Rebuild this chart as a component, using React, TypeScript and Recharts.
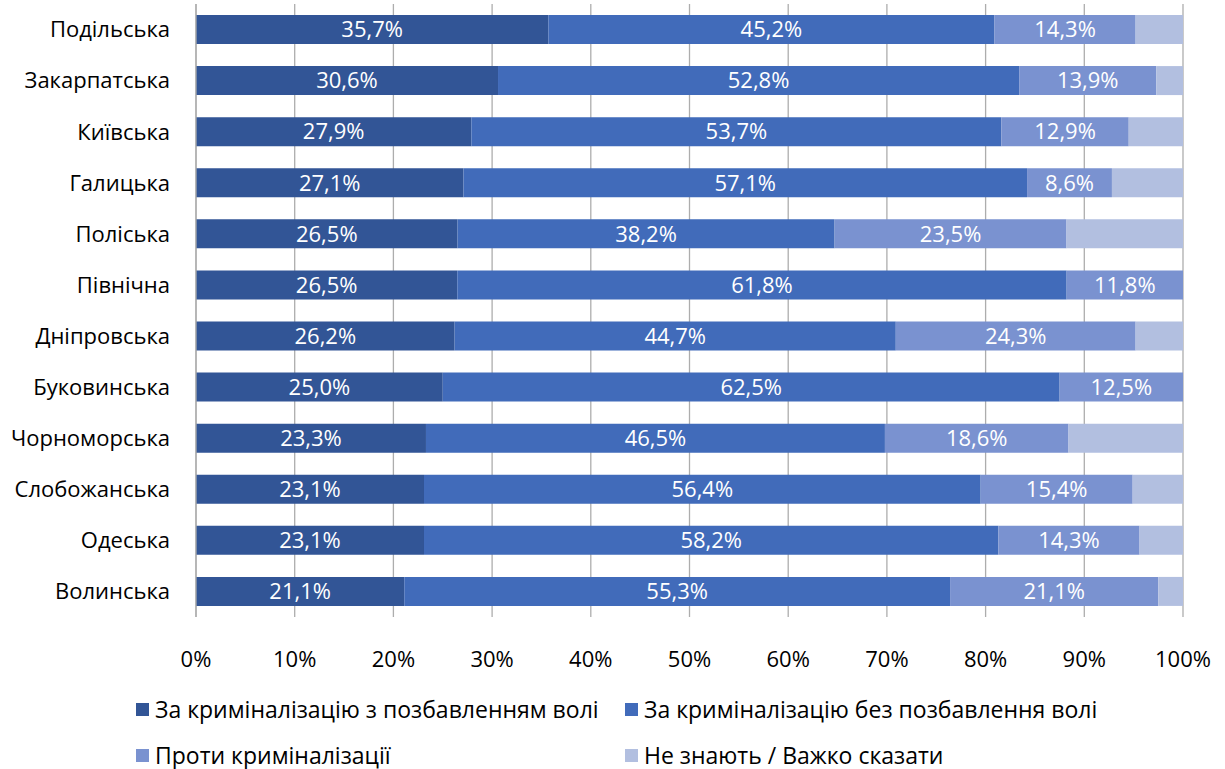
import React from "react";
import { BarChart, Bar, XAxis, YAxis, CartesianGrid, Legend, LabelList } from "recharts";

const regions = ["Подільська","Закарпатська","Київська","Галицька","Поліська","Північна","Дніпровська","Буковинська","Чорноморська","Слобожанська","Одеська","Волинська"];
const withPrison = [35.7,30.6,27.9,27.1,26.5,26.5,26.2,25.0,23.3,23.1,23.1,21.1];
const withoutPrison = [45.2,52.8,53.7,57.1,38.2,61.8,44.7,62.5,46.5,56.4,58.2,55.3];
const against = [14.3,13.9,12.9,8.6,23.5,11.8,24.3,12.5,18.6,15.4,14.3,21.1];
const dontKnow = [4.8,2.7,5.5,7.2,11.8,0,4.8,0,11.6,5.1,4.4,2.5];
const xTicks = [0,0.1,0.2,0.3,0.4,0.5,0.6,0.7,0.8,0.9,1];
const seriesNames = ["За криміналізацію з позбавленням волі","За криміналізацію без позбавлення волі","Проти криміналізації","Не знають / Важко сказати"];
const colors = ["#325596","#416BBA","#7A92D0","#B2BFE0"];

const data = regions.map((r, i) => ({ region: r, s1: withPrison[i], s2: withoutPrison[i], s3: against[i], s4: dontKnow[i] }));

const FONT = "'Open Sans', 'Noto Sans', sans-serif";
const FS = 22;
const LFS = 23;

const fmt = (v: any) => (typeof v === "number" ? v.toFixed(1).replace(".", ",") + "%" : v);

const LegendContent = () => (
  <div style={{ position: "relative", width: 1225, height: 76, fontFamily: FONT, fontSize: LFS, color: "#000", lineHeight: "30px" }}>
    {seriesNames.map((n, i) => {
      const left = i % 2 === 0 ? 136 : 625;
      const top = i < 2 ? 0 : 46;
      return (
        <div key={n} style={{ position: "absolute", left, top, display: "flex", alignItems: "center", whiteSpace: "nowrap" }}>
          <span style={{ display: "inline-block", width: 13, height: 13, background: colors[i], marginRight: 6 }} />
          <span>{n}</span>
        </div>
      );
    })}
  </div>
);

export default function App() {
  return (
    <div style={{ position: "absolute", left: 0, top: 0 }}>
      <BarChart
        width={1225}
        height={769}
        data={data}
        layout="vertical"
        stackOffset="expand"
        barSize={29}
        margin={{ top: 4, right: 42, left: 0, bottom: 16 }}
      >
        <CartesianGrid horizontal={false} vertical={true} stroke="#ADADAD" strokeWidth={1.3} />
        <XAxis
          type="number"
          domain={[0, 1]}
          ticks={xTicks}
          tickFormatter={(v: number) => Math.round(v * 100) + "%"}
          axisLine={false}
          tickLine={false}
          tickSize={0}
          tickMargin={34}
          height={60}
          tick={{ fill: "#000", fontSize: FS, fontFamily: FONT }}
          interval={0}
        />
        <YAxis
          type="category"
          dataKey="region"
          width={196}
          axisLine={{ stroke: "#ADADAD", strokeWidth: 1.3 }}
          tickLine={false}
          tickSize={0}
          tickMargin={26}
          tick={{ fill: "#000", fontSize: FS, fontFamily: FONT }}
          interval={0}
        />
        <Legend content={<LegendContent />} wrapperStyle={{ left: 0, top: 694, width: 1225, height: 76 }} />
        <Bar dataKey="s1" stackId="a" fill={colors[0]} name={seriesNames[0]} isAnimationActive={false}>
          <LabelList dataKey="s1" position="center" formatter={fmt} fill="#fff" style={{ fontSize: FS, fontFamily: FONT }} />
        </Bar>
        <Bar dataKey="s2" stackId="a" fill={colors[1]} name={seriesNames[1]} isAnimationActive={false}>
          <LabelList dataKey="s2" position="center" formatter={fmt} fill="#fff" style={{ fontSize: FS, fontFamily: FONT }} />
        </Bar>
        <Bar dataKey="s3" stackId="a" fill={colors[2]} name={seriesNames[2]} isAnimationActive={false}>
          <LabelList dataKey="s3" position="center" formatter={fmt} fill="#fff" style={{ fontSize: FS, fontFamily: FONT }} />
        </Bar>
        <Bar dataKey="s4" stackId="a" fill={colors[3]} name={seriesNames[3]} isAnimationActive={false} />
      </BarChart>
    </div>
  );
}
